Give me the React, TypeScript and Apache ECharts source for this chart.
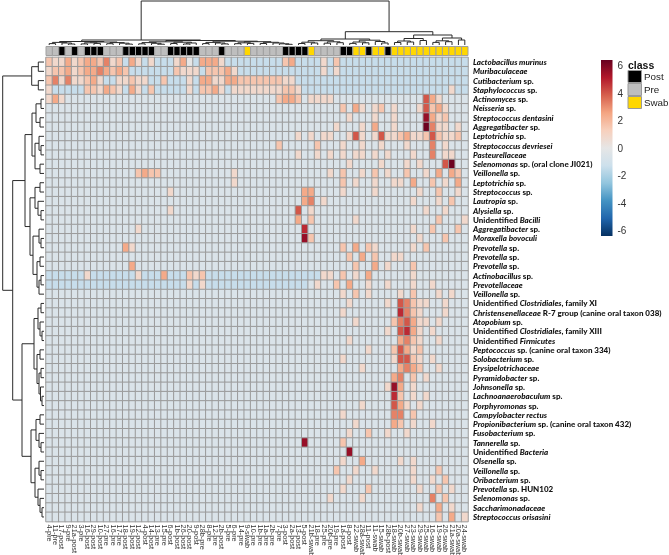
import React, { useEffect, useRef } from "react";
import * as echarts from "echarts";

// ---------- DATA ----------
const COLS: string[] = [
  "4-pre", "11-pre", "17-post", "9-pre", "21a-post", "3-pre", "16-post", "29-post", "10-post", "27-pre", "16-pre",
  "17-pre", "18-post", "19-post", "12-post", "4-post", "14-post", "13-pre", "15-pre", "6-post", "1b-post", "26-post",
  "20-post", "9-post", "28b-pre", "8-pre", "12-pre", "2b-post", "5-pre", "6-pre", "14-pre", "9-swab", "10-pre",
  "1b-pre", "1a-pre", "2b-pre", "7-pre", "3-post", "2a-post", "13-post", "5-post", "21b-swab", "18-pre", "25-pre",
  "20b-pre", "19-pre", "1a-post", "8-post", "22-swab", "28a-swab", "11-post", "11-swab", "15-swab", "28b-post", "18-swab",
  "20b-swab", "27-swab", "23-swab", "29-swab", "25-swab", "16-swab", "19-swab", "26-swab", "21a-swab", "20a-swab", "24-swab",
];

const ROWS: string[] = [
  "*Lactobacillus murinus*", "*Muribaculaceae*", "*Cutibacterium* sp.", "*Staphylococcus* sp.", "*Actinomyces* sp.",
  "*Neisseria* sp.", "*Streptococcus dentasini*", "*Aggregatibacter* sp.", "*Leptotrichia* sp.", "*Streptococcus devriesei*",
  "*Pasteurellaceae*", "*Selenomonas* sp. (oral clone JI021)", "*Veillonella* sp.", "*Leptotrichia* sp.", "*Streptococcus* sp.",
  "*Lautropia* sp.", "*Alysiella* sp.", "Unidentified *Bacilli*", "*Aggregatibacter* sp.", "*Moraxella bovoculi*",
  "*Prevotella* sp.", "*Prevotella* sp.", "*Prevotella* sp.", "*Actinobacillus* sp.", "*Prevotellaceae*",
  "*Veillonella* sp.", "Unidentified *Clostridiales*, family XI", "*Christensenellaceae* R-7 group (canine oral taxon 038)", "*Atopobium* sp.", "Unidentified *Clostridiales*, family XIII",
  "Unidentified *Firmicutes*", "*Peptococcus* sp. (canine oral taxon 334)", "*Solobacterium* sp.", "*Erysipelotrichaceae*", "*Pyramidobacter* sp.",
  "*Johnsonella* sp.", "*Lachnoanaerobaculum* sp.", "*Porphyromonas* sp.", "*Campylobacter rectus*", "*Propionibacterium* sp. (canine oral taxon 432)",
  "*Fusobacterium* sp.", "*Tannerella* sp.", "Unidentified *Bacteria*", "*Olsenella* sp.", "*Veillonella* sp.",
  "*Oribacterium* sp.", "*Prevotella* sp. HUN102", "*Selenomonas* sp.", "*Saccharimonadaceae*", "*Streptococcus orisasini*",
];

// value level of each cell code
const LEVEL: Record<string, number> = {
  "=": -2.2, "-": -1.4, ".": -0.6, "0": 0, "1": 0.8, "2": 1.6, "3": 2.4,
  "4": 3.2, "5": 4.0, "6": 4.8, "7": 5.6, "8": 6.3,
};

// one string per row, 6 groups of 11 columns; D = 11 x ".", B = 11 x "-"
const CELLS: string[] = [
  "21131233241 2-31-1---13 0-3331----- ----23----1 -2--------- -----------",
  "12231233432 32-------21 11-22231--- ----------1 -1--------- -----------",
  "241411231-- 11211--2--- 1-331133222 222211----- ----------- -----------",
  "1-----22132 1-31-2----- 1-2231-1111 1111221---- ----------- --------1--",
  "131........ D D ...2332.111 1.......... ....531....",
  "D D D D ..2.31.12.1 ...15231...",
  "D D D D ...1...1..1 ....7312...",
  "D D D D .1...1.3..1 ....8411.1.",
  "D D D ......1.1.1 1..151.1511 2311252112.",
  "D D D ...2.....2. ..1..1..1.. .1...4.1...",
  "D D D ......1..1. 1.1.11.1.1. ..1..4.11..",
  "D D D D ...1....1.. .1.1...58..",
  "D ...2322.... .......1... D 1.2..1.2.1. .2..1.3.32.",
  "D D .......1... D ..2.1..1..1 1.3..2.1.3.",
  "D ........1.. D .......33.. ..1....1... ...1..2..1.",
  "D D D .......34.1 D ..1...1.2..",
  "D ........1.. D ......5.1.. D ....1..1...",
  "D D D ......3.2.. ....1...... ......2...1",
  "D ...1....... D .......6... D ..1..2...2.",
  "D D D .......72.. D ...1...2...",
  "D .31........ D D ..2.3.21... ..1.2......",
  "D D D D ...2.3.2..1 1..........",
  "D ..3........ D D ....2..3.1. ..2........",
  "------1---- ---1---3--- 212-------- ----------1 1.2.1.3.... ..1........",
  "B B 1-1-------- --------.1. .2.3..1..1. ..1..1.....",
  "D D D D ..1.2.1.... 1.2...1.1..",
  "D D D D ...1.....1. 54211..1...",
  "D D D D ..1........ 6421...1...",
  "D D D D ....1.....2 45311.1....",
  "D D D D .........1. 5631.1.....",
  "D D D D ...1....... 3421..1....",
  "D D D D ......1...2 5312.......",
  "D D D D ..1.......1 5521.1.....",
  "D D D D .....1..... 3432..1....",
  "D D D D ..........3 4.2.1......",
  "D D D D .........17 3.1........",
  "D D D D ..........6 2.1.1......",
  "D D D D .....1....5 31.1.......",
  "D D D D ..1.......4 4.2........",
  "D D D D ....1.....3 2.1..1.....",
  "D D D D ...1..2..1. .1.........",
  "D D D .......7... ..2........ D",
  "D D D D ...7....... D",
  "D D D D ..1..3..... 1.1........",
  "D D D D .2..1..1... ..1...2....",
  "D D D D ...1....... ..1..1.2...",
  "D D D D ..1...2.... ...1..2.1..",
  "D D D D 1....1..... .....4.2...",
  "D D D D D ...1..3.1..",
  "D D D D D ......2.3.1",
];

type Tree = number | [number, Tree, Tree];

// column dendrogram: [height, left, right], leaves = column index
const COL_TREE: Tree = [44,
  [5,
    [3.5,
      [2.6, [1.4, 0, 1], [2, 2, [1, 3, 4]]],
      [3, [2.2, [1.1, 5, 6], [1.6, 7, 8]], [2.4, [1.3, 9, 10], [1.8, 11, [0.9, 12, 13]]]]],
    [4.5,
      [3.2, [2.4, [1.2, 14, 15], [1.7, 16, [0.8, 17, 18]]], [2.8, [1.5, 19, 20], [2, [1, 21, 22], 23]]],
      [3.8, [2.6, [1.4, 24, 25], [2, 26, [1.1, 27, 28]]],
        [3.3, [2.2, [1.3, 29, 30], [1.6, 31, 32]], [2.7, [1.5, 33, 34], [2, 35, [1.2, 36, [0.7, 37, 38]]]]]]]],
  [13.3,
    [6, [4.3, [2.8, [1.5, 39, 40], [2, 41, 42]], [3.2, [1.8, 43, 44], [2.3, 45, 46]]],
      [4.8, [3, [1.6, 47, 48], [2.2, 49, 50]], [3.5, 51, [2, 52, 53]]]],
    [10, [6.5, [4, [2.5, 54, 55], [3, 56, 57]], [4.5, 58, 59]],
      [7, [4.2, [2.6, 60, 61], [3.3, 62, 63]], [5, 64, 65]]]]];

// row dendrogram: leaves = row index
const ROW_TREE: Tree = [41.3,
  [12.3, [5.7, 0, 1], [5.7, 2, 3]],
  [31.3,
    [19,
      [12, [8, [3, 4, 5], [4, 6, 7]], [9, [5, 8, [3, 9, 10]], [4, 11, 12]]],
      [14, [9, [4, 13, 14], [6, 15, [3, 16, 17]]], [11, [5, 18, [3, 19, 20]], [7, [4, 21, 22], [5, [3, 23, 24], 25]]]]],
    [22,
      [10, [6, [3, 26, 27], [4, 28, [2, 29, 30]]], [7, [4, 31, 32], [5, [3, 33, 34], [3.5, 35, [2, 36, 37]]]]],
      [13, [8, [4, 38, 39], [5, 40, [3, 41, 42]]], [9, [5, 43, [3, 44, 45]], [6, 46, [4, 47, [2, 48, 49]]]]]]]];

const CLASSES = ["Post", "Pre", "Swab"];
const CLASS_COLORS = ["#000000", "#bebebe", "#ffd700"];
const PALETTE = ["#053061", "#2166ac", "#4393c3", "#92c5de", "#cde0ec", "#e6e6e6", "#f7d0bd", "#f4a582", "#d6604d", "#b2182b", "#67001f"];
const SCALE_MIN = -6.4;
const SCALE_MAX = 6.4;
const BAR_TICKS = [-6, -4, -2, 0, 2, 4, 6];

// ---------- helpers ----------
function expandRow(s: string): string {
  return s.split(" ").map((t) => (t === "D" ? "..........." : t === "B" ? "-----------" : t)).join("");
}

function segments(t: Tree, out: number[][]): { pos: number; h: number } {
  if (typeof t === "number") return { pos: t, h: 0 };
  const [h, a, b] = t;
  const A = segments(a, out);
  const B = segments(b, out);
  out.push([A.pos, A.h, A.pos, h]);
  out.push([B.pos, B.h, B.pos, h]);
  out.push([A.pos, h, B.pos, h]);
  return { pos: (A.pos + B.pos) / 2, h };
}

function toRich(label: string): string {
  const parts = label.split("*");
  return parts
    .map((p, i) => (p.length === 0 ? "" : i % 2 === 1 ? `{i|${p}}` : `{n|${p}}`))
    .join("");
}

function classOf(label: string): number {
  if (label.endsWith("-post")) return 0;
  if (label.endsWith("-swab")) return 2;
  return 1;
}

export default function App() {
  const ref = useRef<HTMLDivElement>(null);
  useEffect(() => {
    if (!ref.current) return;
    const chart = echarts.init(ref.current, undefined, { renderer: "svg" });

    const heat: number[][] = [];
    CELLS.forEach((s, r) => {
      const str = expandRow(s);
      for (let c = 0; c < COLS.length; c++) {
        const ch = str[c] ?? ".";
        heat.push([c, r, LEVEL[ch] ?? LEVEL["."]]);
      }
    });

    const colSegs: number[][] = [];
    segments(COL_TREE, colSegs);
    const rowSegsRaw: number[][] = [];
    segments(ROW_TREE, rowSegsRaw);
    const rowSegs = rowSegsRaw.map(([p1, h1, p2, h2]) => [h1, p1, h2, p2]);

    const classData = COLS.map((c, i) => [i, 0, classOf(c)]);

    const stops = PALETTE.map((col, k) => ({ offset: k / (PALETTE.length - 1), color: PALETTE[PALETTE.length - 1 - k] }));

    const font = "Lato, 'Open Sans', sans-serif";
    const sans = "'Liberation Sans', Arial, sans-serif";
    const lineItem = (params: any, api: any) => {
      const p1 = api.coord([api.value(0), api.value(1)]);
      const p2 = api.coord([api.value(2), api.value(3)]);
      return {
        type: "line",
        shape: { x1: p1[0], y1: p1[1], x2: p2[0], y2: p2[1] },
        style: { stroke: "#2b2b2b", lineWidth: 1 },
      };
    };

    const HM_LEFT = 46, HM_TOP = 57.4, HM_W = 422, HM_H = 464.2;
    const g = (o: any) => ({ ...o, containLabel: false, outerBoundsMode: "none" });
    const labelStyle = { fontWeight: 900, fontSize: 8, lineHeight: 9, fontFamily: font, color: "#111" };

    chart.setOption({
      animation: false,
      grid: [
        g({ left: HM_LEFT, top: HM_TOP, width: HM_W, height: HM_H }),
        g({ left: HM_LEFT, top: 46.5, width: HM_W, height: 9 }),
        g({ left: HM_LEFT, top: 1, width: HM_W, height: 44 }),
        g({ left: 1, top: HM_TOP, width: 43, height: HM_H }),
        g({ left: 601, top: 60, width: 11.5, height: 176 }),
      ],
      xAxis: [
        {
          gridIndex: 0, type: "category", data: COLS, position: "bottom",
          axisLine: { show: false }, axisTick: { show: false },
          axisLabel: { interval: 0, rotate: -90, margin: 3, fontSize: 7.3, color: "#333", fontFamily: sans },
        },
        { gridIndex: 1, type: "category", data: COLS, show: false },
        { gridIndex: 2, type: "value", min: -0.5, max: COLS.length - 0.5, show: false },
        { gridIndex: 3, type: "value", min: 0, max: 43, inverse: true, show: false },
        { gridIndex: 4, type: "value", min: 0, max: 1, show: false },
      ],
      yAxis: [
        {
          gridIndex: 0, type: "category", data: ROWS, inverse: true, position: "right",
          axisLine: { show: false }, axisTick: { show: false },
          axisLabel: {
            interval: 0, margin: 5, overflow: "none", width: 240, formatter: (v: string) => toRich(v),
            rich: {
              i: { ...labelStyle, fontStyle: "italic" },
              n: { ...labelStyle },
            },
          },
        },
        { gridIndex: 1, type: "category", data: ["class"], show: false },
        { gridIndex: 2, type: "value", min: 0, max: 44, show: false },
        { gridIndex: 3, type: "value", min: -0.5, max: ROWS.length - 0.5, inverse: true, show: false },
        {
          gridIndex: 4, type: "value", min: SCALE_MIN, max: SCALE_MAX, position: "right",
          splitLine: { show: false }, axisLine: { show: false },
          axisTick: { show: false, customValues: BAR_TICKS },
          axisLabel: { customValues: BAR_TICKS, margin: 5, fontSize: 10, color: "#333", fontFamily: sans },
        },
      ],
      visualMap: {
        type: "continuous", show: false, seriesIndex: 0, dimension: 2,
        min: SCALE_MIN, max: SCALE_MAX, inRange: { color: PALETTE },
      },
      series: [
        {
          type: "heatmap", xAxisIndex: 0, yAxisIndex: 0, data: heat,
          itemStyle: { borderColor: "#9a9a9a", borderWidth: 1 },
          emphasis: { disabled: true },
        },
        {
          type: "custom", xAxisIndex: 1, yAxisIndex: 1, data: classData,
          renderItem: (params: any, api: any) => {
            const c = api.coord([api.value(0), 0]);
            const s = api.size([1, 1]);
            return {
              type: "rect",
              shape: { x: c[0] - s[0] / 2, y: c[1] - s[1] / 2, width: s[0], height: s[1] },
              style: { fill: CLASS_COLORS[api.value(2)], stroke: "#a0a0a0", lineWidth: 1 },
            };
          },
        },
        {
          type: "custom", xAxisIndex: 2, yAxisIndex: 2, data: colSegs,
          encode: { x: [0, 2], y: [1, 3] }, renderItem: lineItem,
        },
        {
          type: "custom", xAxisIndex: 3, yAxisIndex: 3, data: rowSegs,
          encode: { x: [0, 2], y: [1, 3] }, renderItem: lineItem,
        },
        {
          type: "custom", xAxisIndex: 4, yAxisIndex: 4, data: [[0, SCALE_MAX, 1, SCALE_MIN]],
          encode: { x: [0, 2], y: [1, 3] },
          renderItem: (params: any, api: any) => {
            const p1 = api.coord([api.value(0), api.value(1)]);
            const p2 = api.coord([api.value(2), api.value(3)]);
            return {
              type: "rect",
              shape: { x: p1[0], y: p1[1], width: p2[0] - p1[0], height: p2[1] - p1[1] },
              style: { fill: new echarts.graphic.LinearGradient(0, 0, 0, 1, stops) },
            };
          },
        },
      ],
      graphic: [
        { type: "text", x: 628, y: 59, style: { text: "class", font: `bold 10.5px ${sans}`, fill: "#111" } },
        ...CLASSES.flatMap((name, i) => [
          { type: "rect", shape: { x: 628, y: 70.5 + i * 13, width: 13.5, height: 12 }, style: { fill: CLASS_COLORS[i], stroke: "#999", lineWidth: 1 } },
          { type: "text", x: 644, y: 76.5 + i * 13, style: { text: name, font: `9.8px ${sans}`, fill: "#222", verticalAlign: "middle" } },
        ]),
      ],
    });
    return () => chart.dispose();
  }, []);
  return <div ref={ref} style={{ position: "fixed", left: 0, top: 0, width: 669, height: 555 }} />;
}
